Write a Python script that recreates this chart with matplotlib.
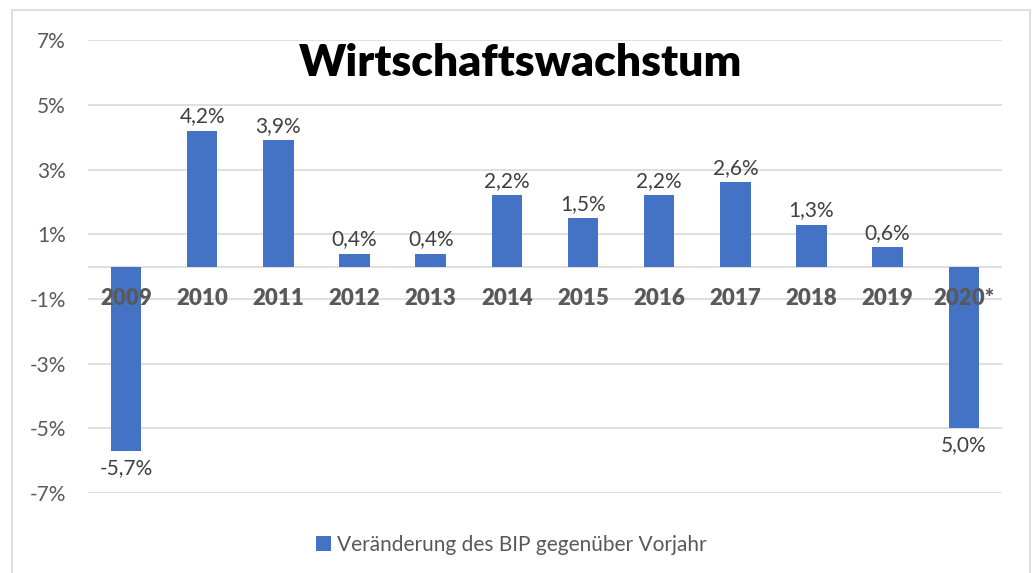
import matplotlib
matplotlib.use("Agg")
import matplotlib.pyplot as plt
from matplotlib.patches import Rectangle

years = ["2009", "2010", "2011", "2012", "2013", "2014", "2015", "2016",
         "2017", "2018", "2019", "2020*"]
growth = [-5.7, 4.2, 3.9, 0.4, 0.4, 2.2, 1.5, 2.2, 2.6, 1.3, 0.6, -5.0]
value_labels = ["-5,7%", "4,2%", "3,9%", "0,4%", "0,4%", "2,2%", "1,5%",
                "2,2%", "2,6%", "1,3%", "0,6%", "5,0%"]
y_ticks = [-7, -5, -3, -1, 1, 3, 5, 7]

plt.rcParams['font.family'] = ['Lato', 'DejaVu Sans']
grey = "#595959"
blue = "#4472C4"

fig = plt.figure(figsize=(10.35, 5.73), dpi=100)
fig.patches.append(Rectangle((12 / 1035, -0.01), (1030 - 12) / 1035, 1 - 10 / 573 + 0.01,
                             transform=fig.transFigure, fill=False,
                             edgecolor="#D9D9D9", linewidth=1.2))
ax = fig.add_axes([0.085, 0.1396, 0.883, 0.7904])

x = list(range(len(years)))
ax.bar(x, growth, 0.4, color=blue, zorder=3,
       label="Veränderung des BIP gegenüber Vorjahr")

ax.set_xlim(-0.5, len(years) - 0.5)
ax.set_ylim(-7, 7)
ax.set_yticks(y_ticks)
ax.set_yticklabels([f"{t}%" for t in y_ticks])
ax.set_xticks([])
ax.tick_params(axis='y', length=0, pad=16, labelsize=15, labelcolor=grey)
ax.grid(axis='y', color="#D9D9D9", linewidth=1.2, zorder=0)
ax.axhline(0, color="#D9D9D9", linewidth=1.2, zorder=1)
for s in ax.spines.values():
    s.set_visible(False)

for i, yr in enumerate(years):
    ax.text(i, -1, yr, ha='center', va='center', fontsize=16,
            fontweight='heavy', color=grey, zorder=4)

for i, (v, lab) in enumerate(zip(growth, value_labels)):
    if v >= 0:
        ax.annotate(lab, (i, v), xytext=(0, 3), textcoords='offset points',
                    ha='center', va='bottom', fontsize=15, color="#404040")
    else:
        ax.annotate(lab, (i, v), xytext=(0, -5), textcoords='offset points',
                    ha='center', va='top', fontsize=15, color="#404040")

fig.text(0.503, 0.89, "Wirtschaftswachstum", ha='center', va='center',
         fontsize=32, fontweight='heavy', color='black')

fig.legend(loc='center', bbox_to_anchor=(0.494, 0.049), frameon=False,
           fontsize=15, labelcolor=grey, handlelength=0.75, handleheight=0.75,
           handletextpad=0.3)

fig.savefig("out.png", dpi=100, facecolor="white")
